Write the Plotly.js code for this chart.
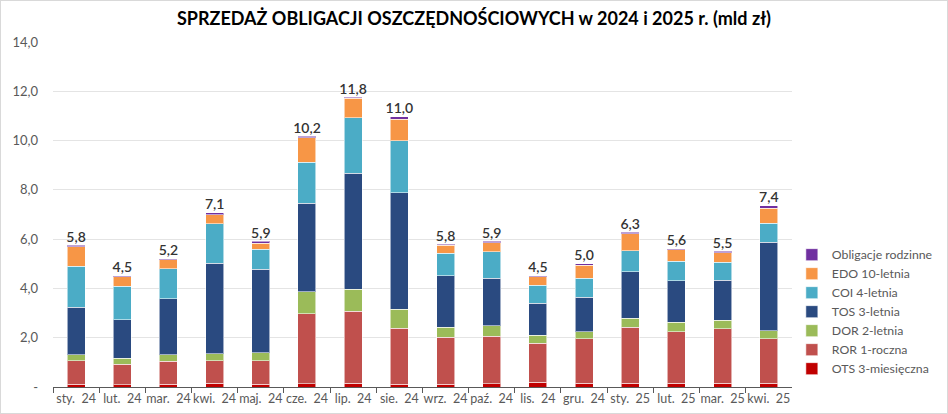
<!DOCTYPE html>
<html>
<head>
<meta charset="utf-8">
<script src="https://cdn.plot.ly/plotly-3.0.1.min.js"></script>
<style>
  body { margin: 0; background: #fff; }
  #chart { width: 946px; height: 412px; border: 1px solid #d9d9d9; }
</style>
</head>
<body>
<div id="chart"></div>
<script>
// miesiące (etykiety osi X)
var months = ['sty.\u00a0 24', 'lut.\u00a0 24', 'mar.\u00a0 24', 'kwi.\u00a0 24', 'maj.\u00a0 24', 'cze.\u00a0 24',
  'lip.\u00a0 24', 'sie.\u00a0 24', 'wrz.\u00a0 24', 'paź.\u00a0 24', 'lis.\u00a0 24', 'gru.\u00a0 24',
  'sty.\u00a0 25', 'lut.\u00a0 25', 'mar.\u00a0 25', 'kwi.\u00a0 25']

// sprzedaż w mld zł
var ots = [0.12, 0.10, 0.12, 0.15, 0.12, 0.13, 0.16, 0.12, 0.12, 0.14, 0.19, 0.16, 0.16, 0.15, 0.15, 0.15]
var ror = [0.95, 0.83, 0.92, 0.92, 0.95, 2.84, 2.91, 2.27, 1.89, 1.91, 1.59, 1.80, 2.26, 2.10, 2.21, 1.81]
var dor = [0.24, 0.24, 0.27, 0.27, 0.31, 0.90, 0.90, 0.77, 0.42, 0.43, 0.32, 0.29, 0.37, 0.37, 0.34, 0.32]
var tos = [1.93, 1.56, 2.27, 3.68, 3.40, 3.58, 4.70, 4.72, 2.08, 1.93, 1.30, 1.39, 1.89, 1.70, 1.64, 3.59]
var coi = [1.67, 1.35, 1.21, 1.60, 0.81, 1.68, 2.26, 2.11, 0.91, 1.07, 0.73, 0.77, 0.85, 0.79, 0.73, 0.77]
var edo = [0.79, 0.40, 0.37, 0.38, 0.24, 0.99, 0.78, 0.88, 0.34, 0.38, 0.35, 0.54, 0.68, 0.45, 0.38, 0.61]
var rodzinne = [0.06, 0.04, 0.05, 0.07, 0.08, 0.06, 0.05, 0.09, 0.04, 0.06, 0.04, 0.05, 0.08, 0.05, 0.05, 0.11]

var yTickVals = [0, 2, 4, 6, 8, 10, 12, 14]
var yTickText = ['-', '2,0', '4,0', '6,0', '8,0', '10,0', '12,0', '14,0']

var series = [
  { name: 'OTS 3-miesięczna', y: ots, color: '#C00000' },
  { name: 'ROR 1-roczna', y: ror, color: '#C0504D' },
  { name: 'DOR 2-letnia', y: dor, color: '#9BBB59' },
  { name: 'TOS 3-letnia', y: tos, color: '#2A4A80' },
  { name: 'COI 4-letnia', y: coi, color: '#4BACC6' },
  { name: 'EDO 10-letnia', y: edo, color: '#F79646' },
  { name: 'Obligacje rodzinne', y: rodzinne, color: '#7030A0' }
]

var data = series.map(function (s) {
  return {
    type: 'bar',
    name: s.name,
    x: months,
    y: s.y,
    marker: { color: s.color, line: { color: 'rgba(255,255,255,0.55)', width: 1 } },
    hoverinfo: 'x+y+name'
  }
})

// sumy nad słupkami
var totals = months.map(function (m, i) {
  var sum = 0
  series.forEach(function (s) { sum += s.y[i] })
  return sum
})

data.push({
  type: 'scatter',
  mode: 'text',
  x: months,
  y: totals,
  text: totals.map(function (v) { return v.toFixed(1).replace('.', ',') }),
  textposition: 'top center',
  textfont: { family: 'Lato, sans-serif', size: 14, color: '#333', weight: 600 },
  showlegend: false,
  hoverinfo: 'skip',
  cliponaxis: false
})

var layout = {
  width: 946,
  height: 412,
  margin: { l: 52, r: 141, t: 41, b: 26 },
  paper_bgcolor: '#fff',
  plot_bgcolor: '#fff',
  barmode: 'stack',
  bargap: 0.61,
  font: { family: 'Lato, sans-serif', color: '#595959' },
  title: {
    text: '<b>SPRZEDAŻ OBLIGACJI OSZCZĘDNOŚCIOWYCH w 2024 i 2025 r. (mld zł)</b>',
    font: { family: 'Lato, sans-serif', size: 18, color: '#000' },
    x: 0.5,
    xanchor: 'center',
    y: 0.958,
    yanchor: 'middle'
  },
  xaxis: {
    type: 'category',
    range: [-0.5, months.length - 0.5],
    tickson: 'boundaries',
    ticks: 'outside',
    ticklen: 5,
    tickcolor: '#595959',
    showline: true,
    linecolor: '#595959',
    tickangle: 0,
    tickfont: { size: 12.5, color: '#595959' },
    fixedrange: true
  },
  yaxis: {
    range: [0, 14],
    tickvals: yTickVals,
    ticktext: yTickText,
    showgrid: true,
    gridcolor: '#e4e4e4',
    zeroline: false,
    tickfont: { size: 13, color: '#595959' },
    ticklabelstandoff: 14,
    fixedrange: true
  },
  legend: {
    traceorder: 'reversed',
    xref: 'container',
    yref: 'container',
    x: 0.836,
    xanchor: 'left',
    y: 0.246,
    yanchor: 'middle',
    font: { size: 12.3, color: '#595959' },
    itemwidth: 30,
    tracegroupgap: 0
  },
  showlegend: true
}

Plotly.newPlot('chart', data, layout, { displayModeBar: false, staticPlot: true })
</script>
</body>
</html>
